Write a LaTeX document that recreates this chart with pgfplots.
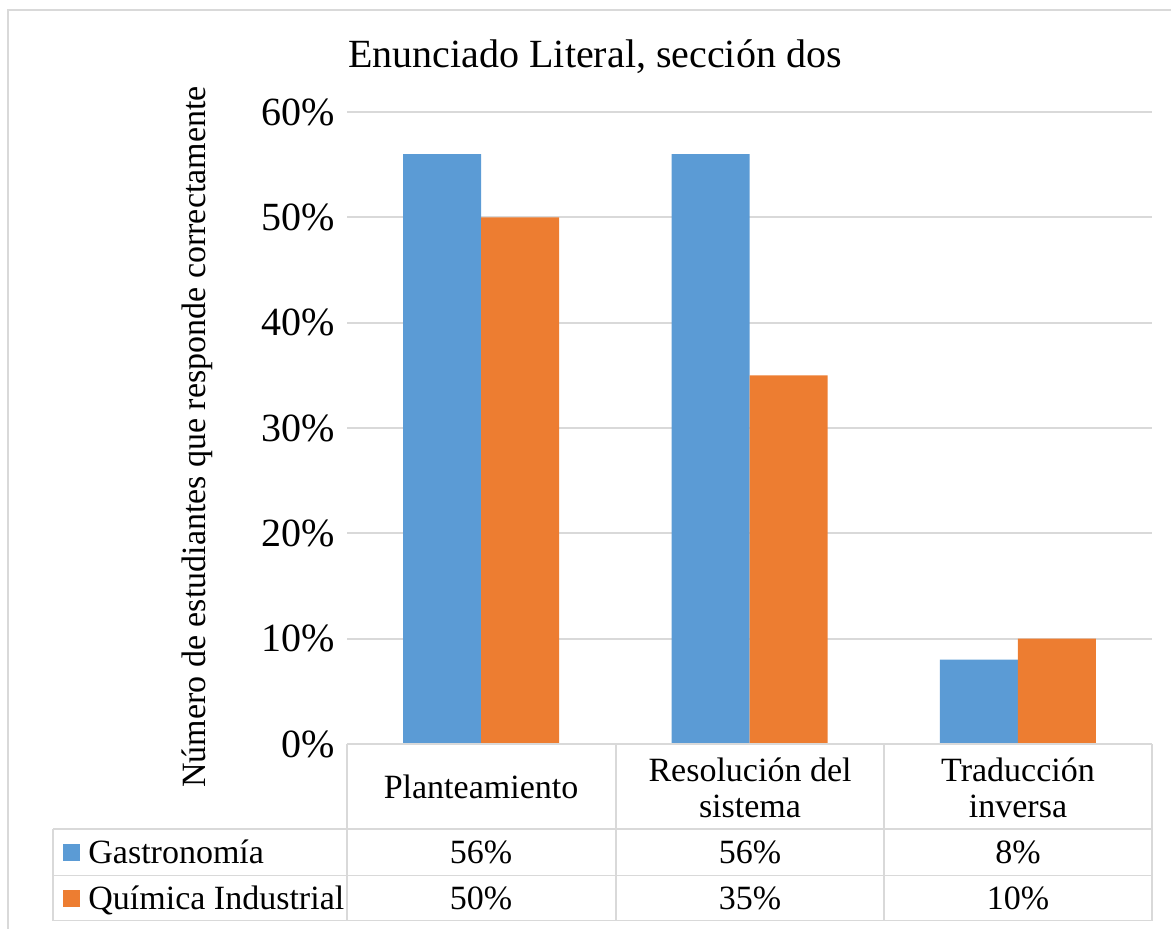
\documentclass[border=0pt]{standalone}
\usepackage{pgfplots}
\pgfplotsset{compat=1.18}
\usepackage{fontspec}
\setmainfont{Liberation Serif}
\definecolor{cblue}{HTML}{5B9BD5}
\definecolor{corange}{HTML}{ED7D31}
\definecolor{cgrid}{HTML}{D9D9D9}
\begin{document}
\begin{tikzpicture}[x=0.5pt,y=0.5pt]
\useasboundingbox (0,0) rectangle (1171,928);
\begin{scope}
\clip (0,0) rectangle (1171,928);
\draw[cgrid, line width=1pt] (7.5,918) -- (7.5,-20) -- (1190,-20) -- (1190,918) -- cycle;
\end{scope}
\begin{axis}[
  at={(173.5pt,92pt)}, anchor=south west,
  scale only axis, width=402.5pt, height=316pt,
  xmin=-0.5, xmax=2.5, ymin=0, ymax=60,
  ybar=0pt, bar width=39pt,
  axis line style={draw=none},
  major tick style={draw=none},
  xtick={0,1,2}, xticklabels={},
  ytick={0,10,20,30,40,50,60},
  yticklabels={0\%,10\%,20\%,30\%,40\%,50\%,60\%},
  yticklabel style={font=\fontsize{20}{24}\selectfont, inner sep=0pt, xshift=-6pt, anchor=east},
  ymajorgrids, grid style={cgrid, line width=0.9pt},
  clip=false,
]
\addplot[fill=cblue, draw=none] coordinates {(0,56) (1,56) (2,8)};
\addplot[fill=corange, draw=none] coordinates {(0,50) (1,35) (2,10)};
\end{axis}
% data table
\begin{scope}[cgrid, line width=0.9pt]
\draw (347,{928-744}) -- (1152,{928-744});
\draw (53,{928-829}) -- (1152,{928-829});
\draw (53,{928-875.5}) -- (1152,{928-875.5});
\draw (53,{928-920.5}) -- (1152,{928-920.5});
\draw (53,{928-829}) -- (53,{928-920.5});
\foreach \xx in {347,616,884,1152} \draw (\xx,{928-744}) -- (\xx,{928-920.5});
\end{scope}
\begin{scope}[every node/.style={font=\fontsize{17}{18}\selectfont, inner sep=0pt}]
\node[anchor=base] at (481,{928-798}) {Planteamiento};
\node[anchor=base] at (750,{928-781}) {Resolución del};
\node[anchor=base] at (750,{928-817}) {sistema};
\node[anchor=base] at (1018,{928-781}) {Traducción};
\node[anchor=base] at (1018,{928-817}) {inversa};
\node[anchor=base west] at (88,{928-863}) {Gastronomía};
\node[anchor=base west] at (88,{928-909}) {Química Industrial};
\node[anchor=base] at (481,{928-863}) {56\%};
\node[anchor=base] at (750,{928-863}) {56\%};
\node[anchor=base] at (1018,{928-863}) {8\%};
\node[anchor=base] at (481,{928-909}) {50\%};
\node[anchor=base] at (750,{928-909}) {35\%};
\node[anchor=base] at (1018,{928-909}) {10\%};
\node[rotate=90] at (197,{928-437}) {Número de estudiantes que responde correctamente};
\end{scope}
\fill[cblue] (63,{928-844}) rectangle (80,{928-861});
\fill[corange] (63,{928-890}) rectangle (80,{928-907});
\node[anchor=base, inner sep=0pt, font=\fontsize{20}{24}\selectfont] at (595,{928-68}) {Enunciado Literal, sección dos};
\end{tikzpicture}
\end{document}
